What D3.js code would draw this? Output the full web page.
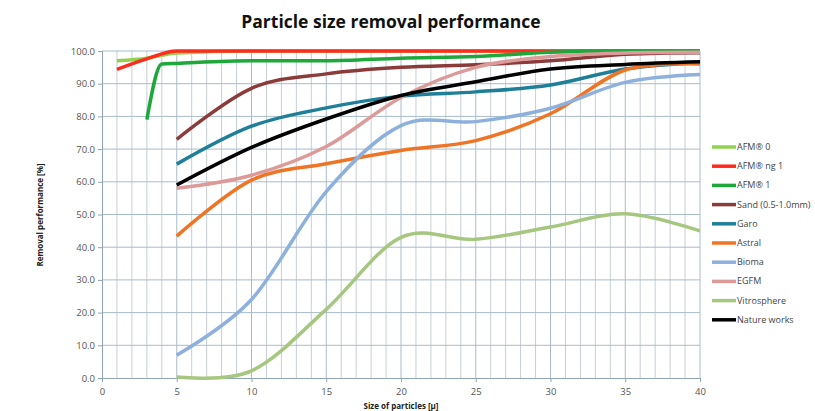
<!DOCTYPE html>
<html lang="en">
<head>
<meta charset="utf-8">
<title>Particle size removal performance</title>
<script src="https://d3js.org/d3.v7.min.js"></script>
<style>
  body { margin: 0; background: #fff; }
  svg text { font-family: "Open Sans", "Noto Sans", sans-serif; }
</style>
</head>
<body>
<div id="chart"></div>
<script>
// series data
var names = ["AFM\u00ae 0", "AFM\u00ae ng 1", "AFM\u00ae 1", "Sand (0.5-1.0mm)", "Garo", "Astral",
             "Bioma", "EGFM", "Vitrosphere", "Nature works"];
var colors = ["#92d050", "#ff2b1c", "#1ea83b", "#8c3b3b", "#1f7f99", "#ef7526",
              "#8db0dc", "#dc9a99", "#a6c77f", "#000000"];

var xAfm0 = [1, 3, 5, 10, 15, 20, 25, 30, 35, 40];
var yAfm0 = [97.0, 97.8, 99.4, 100, 100, 100, 100, 100, 100, 100];
var xAfmNg1 = [1, 3, 5, 10, 15, 20, 25, 30, 35, 40];
var yAfmNg1 = [94.4, 97.6, 100, 100, 100, 100, 100, 100, 100, 100];
var xAfm1 = [3, 4, 5, 10, 15, 20, 25, 30, 35, 40];
var yAfm1 = [79.0, 96.0, 96.2, 97.0, 97.0, 97.8, 98.3, 99.6, 100, 100];

var xStd = [5, 10, 15, 20, 25, 30, 35, 40];
var ySand = [73.0, 88.6, 93.0, 95.0, 95.8, 97.0, 99.0, 99.5];
var yGaro = [65.4, 77.0, 82.6, 86.2, 87.5, 89.6, 94.5, 96.5];
var yAstral = [43.4, 60.5, 65.5, 69.6, 72.6, 80.8, 94.2, 96.0];
var yBioma = [7.0, 24.0, 57.0, 77.2, 78.4, 82.5, 90.4, 92.8];
var yEgfm = [58.0, 62.0, 70.8, 85.8, 95.0, 98.3, 99.4, 99.6];
var yVitro = [0.3, 2.2, 21.0, 43.0, 42.4, 46.2, 50.2, 45.0];
var yNature = [59.0, 70.5, 79.2, 86.4, 90.6, 94.5, 95.9, 96.7];

var xs = [xAfm0, xAfmNg1, xAfm1, xStd, xStd, xStd, xStd, xStd, xStd, xStd];
var ys = [yAfm0, yAfmNg1, yAfm1, ySand, yGaro, yAstral, yBioma, yEgfm, yVitro, yNature];

var xTicks = [0, 5, 10, 15, 20, 25, 30, 35, 40];
var yTicks = [0, 10, 20, 30, 40, 50, 60, 70, 80, 90, 100];

var W = 815, H = 411;
var margin = {top: 51, right: 115, bottom: 33, left: 102};
var width = W - margin.left - margin.right,
    height = H - margin.top - margin.bottom;

var svg = d3.select("#chart").append("svg")
    .attr("width", W).attr("height", H);

var g = svg.append("g")
    .attr("transform", "translate(" + margin.left + "," + margin.top + ")");

var x = d3.scaleLinear().domain([0, 40]).range([0, width]);
var y = d3.scaleLinear().domain([0, 100]).range([height, 0]);

// grid: every unit on x, every 10 on y
g.append("g").selectAll("line")
  .data(d3.range(1, 41))
  .enter().append("line")
    .attr("x1", function(d) { return x(d); })
    .attr("x2", function(d) { return x(d); })
    .attr("y1", 0).attr("y2", height)
    .attr("stroke", function(d) { return d % 5 == 0 ? "#a9bccb" : "#c5cfd6"; })
    .attr("stroke-width", 1);

g.append("g").selectAll("line")
  .data(yTicks.slice(1))
  .enter().append("line")
    .attr("x1", 0).attr("x2", width)
    .attr("y1", function(d) { return y(d); })
    .attr("y2", function(d) { return y(d); })
    .attr("stroke", "#a9bccb")
    .attr("stroke-width", 1);

// axes
var yAxis = g.append("g")
  .call(d3.axisLeft(y).tickValues(yTicks).tickSize(4).tickFormat(d3.format(".1f")));
var xAxis = g.append("g")
  .attr("transform", "translate(0," + height + ")")
  .call(d3.axisBottom(x).tickValues(xTicks).tickSize(4));

[xAxis, yAxis].forEach(function(a) {
  a.selectAll("path, line").attr("stroke", "#8fa4b5");
  a.selectAll("text").attr("fill", "#555").style("font-size", "9.5px");
});
xAxis.selectAll("text").attr("dy", "1.05em");

// lines (the AFM series have a sharp knee, so no overshoot there)
var smooth = d3.line()
  .x(function(d) { return x(d[0]); })
  .y(function(d) { return y(d[1]); })
  .curve(d3.curveCardinal.tension(0));
var knee = d3.line()
  .x(function(d) { return x(d[0]); })
  .y(function(d) { return y(d[1]); })
  .curve(d3.curveMonotoneX);

names.forEach(function(n, i) {
  g.append("path")
    .datum(d3.zip(xs[i], ys[i]))
    .attr("fill", "none")
    .attr("stroke", colors[i])
    .attr("stroke-width", 3.5)
    .attr("stroke-linejoin", "round")
    .attr("d", i < 3 ? knee : smooth);
});

// title and axis labels
svg.append("text")
  .attr("x", 391).attr("y", 28)
  .attr("text-anchor", "middle")
  .style("font-size", "17.5px").style("font-weight", "bold")
  .attr("fill", "#111")
  .text("Particle size removal performance");

svg.append("text")
  .attr("x", 401).attr("y", 409)
  .attr("text-anchor", "middle")
  .style("font-size", "8px").style("font-weight", "bold")
  .attr("fill", "#222")
  .text("Size of particles [\u00b5]");

svg.append("text")
  .attr("transform", "translate(43,215) rotate(-90)")
  .attr("text-anchor", "middle")
  .style("font-size", "8px").style("font-weight", "bold")
  .attr("fill", "#222")
  .text("Removal performance [%]");

// legend
var legend = svg.append("g").attr("transform", "translate(712,147)");
names.forEach(function(n, i) {
  var row = legend.append("g").attr("transform", "translate(0," + (i * 19.2) + ")");
  row.append("line")
    .attr("x1", 0).attr("x2", 24)
    .attr("stroke", colors[i]).attr("stroke-width", 3.5);
  row.append("text")
    .attr("x", 25).attr("y", 3)
    .style("font-size", "9px")
    .attr("fill", "#444")
    .text(n);
});
</script>
</body>
</html>
